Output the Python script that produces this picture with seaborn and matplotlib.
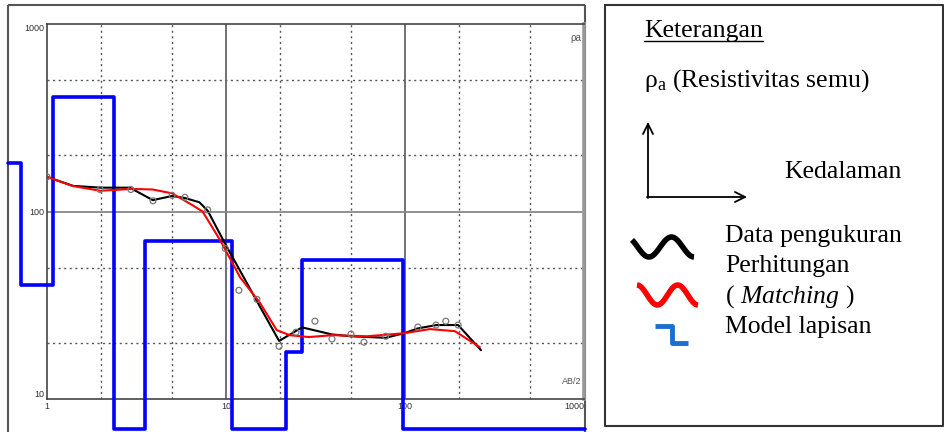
import numpy as np
import matplotlib
matplotlib.use("Agg")
import matplotlib.pyplot as plt
import seaborn as sns
from matplotlib.ticker import LogLocator, NullFormatter, FixedLocator

# Data pengukuran (titik ukur)
ab2_obs = [1.0, 1.98, 2.94, 3.91, 5.0, 5.9, 7.9, 9.9, 11.8, 14.9, 19.8, 24.6,
           31.4, 39.1, 49.9, 59, 78, 118, 149, 169, 198]
rho_obs = [153, 131, 131, 114, 122, 119, 102, 63.6, 38, 34, 19.1, 22.7,
           26, 20.9, 22.2, 20.1, 21.6, 24.2, 24.8, 26, 24.8]

# Kurva data pengukuran (garis hitam)
ab2_line = [1.0, 1.4, 2.0, 2.9, 3.9, 5.0, 5.9, 7.1, 7.9, 10, 15, 19.8, 26.6,
            39, 50, 78, 100, 118, 150, 198, 266]
rho_line = [153, 137, 134, 134, 115, 121, 118, 112, 101, 66, 32.8, 20.4, 24.1,
            22.1, 21.6, 21.2, 22.5, 23.8, 24.8, 24.8, 18.2]

# Kurva perhitungan (matching)
ab2_calc = [1.0, 1.38, 1.98, 3.0, 3.9, 5.0, 6.3, 7.4, 9.3, 12, 15.5, 19.2, 22.7,
            29, 39.6, 61, 98, 138, 190, 262]
rho_calc = [153, 137, 129, 132, 131, 125, 110, 100, 70, 44.5, 32.5, 23.3, 21.9,
            21.4, 21.9, 21.6, 22.4, 23.6, 23.0, 18.9]

# Model lapisan
layer_top = [0.605, 0.716, 1.08, 2.37, 3.53, 10.8, 21.6, 26.6, 97.5]
layer_rho = [182, 40.4, 409, 6.9, 69.2, 6.9, 17.8, 54.9, 6.9]
model_end = 1014

W, H = 945, 432

sns.set_style("white")
plt.rcParams["font.family"] = ["Liberation Sans", "DejaVu Sans"]
plt.rcParams["mathtext.fontset"] = "custom"
plt.rcParams["mathtext.rm"] = "Liberation Serif"
plt.rcParams["mathtext.it"] = "Liberation Serif:italic"

fig = plt.figure(figsize=(W / 100, H / 100), dpi=100)

# kanvas piksel untuk bingkai dan keterangan
cv = fig.add_axes([0, 0, 1, 1])
cv.set_xlim(0, W)
cv.set_ylim(H, 0)
cv.axis("off")

frame = dict(color="#555555", lw=1.5, solid_capstyle="butt")
cv.plot([8, 8], [5, H], **frame)
cv.plot([8, 585], [5, 5], **frame)
cv.plot([585, 585], [5, H], **frame)
cv.plot([605, 943, 943, 605, 605], [5, 5, 426, 426, 5], color="#333333", lw=1.5)

# grafik utama
ax = fig.add_axes([47 / W, 1 - 399 / H, (584 - 47) / W, (399 - 24) / H])
ax.set_xscale("log")
ax.set_yscale("log")
ax.set_xlim(1, 1000)
ax.set_ylim(10, 1000)

for d in [1, 10, 100]:
    for m in [2, 5]:
        ax.axvline(d * m, color="#555555", lw=1, ls=(0, (1.5, 2.5)), zorder=1)
for d in [10, 100]:
    for m in [2, 5]:
        ax.axhline(d * m, color="#555555", lw=1, ls=(0, (1.5, 2.5)), zorder=1)
for v in [10, 100]:
    ax.axvline(v, color="#666666", lw=1.3, zorder=1)
ax.axhline(100, color="#888888", lw=1.3, zorder=1)

xs = layer_top + [model_end]
ys = layer_rho + [layer_rho[-1]]
sns.lineplot(x=xs, y=ys, ax=ax, color="#0000ff", lw=2.6, drawstyle="steps-post",
             estimator=None, sort=False, clip_on=False, zorder=3)
sns.lineplot(x=ab2_line, y=rho_line, ax=ax, color="black", lw=1.5,
             estimator=None, sort=False, zorder=4)
sns.lineplot(x=ab2_calc, y=rho_calc, ax=ax, color="#ff0000", lw=1.5,
             estimator=None, sort=False, zorder=5)
sns.scatterplot(x=ab2_obs, y=rho_obs, ax=ax, marker="o", s=18,
                facecolor="none", edgecolor="#777777", linewidth=0.9, zorder=6)

ax.xaxis.set_major_locator(FixedLocator([1, 10, 100, 1000]))
ax.yaxis.set_major_locator(FixedLocator([10, 100, 1000]))
ax.set_xticklabels(["1", "10", "100", "1000"])
ax.set_yticklabels(["10", "100", "1000"])
ax.xaxis.set_minor_locator(LogLocator(base=10, subs=np.arange(2, 10)))
ax.yaxis.set_minor_locator(LogLocator(base=10, subs=np.arange(2, 10)))
ax.xaxis.set_minor_formatter(NullFormatter())
ax.yaxis.set_minor_formatter(NullFormatter())
ax.tick_params(which="major", length=0, labelsize=6.5, labelcolor="#333333", pad=2)
ax.tick_params(which="minor", direction="in", length=3, width=0.8, color="#555555")
ax.get_yticklabels()[0].set_va("bottom")
ax.get_yticklabels()[-1].set_va("top")
ax.get_xticklabels()[-1].set_ha("right")

for side in ["left", "bottom", "top"]:
    ax.spines[side].set_color("#444444")
    ax.spines[side].set_linewidth(1.2)
ax.spines["right"].set_color("#999999")
ax.spines["right"].set_linewidth(2.6)
ax.set_xlabel("")
ax.set_ylabel("")

ax.text(0.995, 0.975, "ρa", transform=ax.transAxes, ha="right", va="top",
        fontsize=7, color="#555555")
ax.text(0.995, 0.035, "AB/2", transform=ax.transAxes, ha="right", va="bottom",
        fontsize=6.5, color="#555555")

# keterangan
serif = dict(family="Liberation Serif", color="black", va="baseline")
fs = 18.5
t = cv.text(644, 37, "Keterangan", fontsize=fs, **serif)
cv.text(644, 87, r"ρ$_{\mathrm{a}}$ (Resistivitas semu)", fontsize=fs, **serif)
cv.text(784, 178, "Kedalaman", fontsize=fs, **serif)
cv.text(725, 242, "Data pengukuran", fontsize=fs, **serif)
cv.text(725, 272, "Perhitungan", fontsize=fs, **serif)
cv.text(725, 303, r"( $\mathit{Matching}$ )", fontsize=fs, **serif)
cv.text(725, 333, "Model lapisan", fontsize=fs, **serif)

fig.canvas.draw()
bb = t.get_window_extent().transformed(cv.transData.inverted())
cv.plot([bb.x0, bb.x1], [41, 41], color="black", lw=1)

cv.annotate("", xy=(648, 122), xytext=(648, 198),
            arrowprops=dict(arrowstyle="->", lw=1.3, color="black", mutation_scale=18,
                            shrinkA=0, shrinkB=0))
cv.annotate("", xy=(747, 197), xytext=(647, 197),
            arrowprops=dict(arrowstyle="->", lw=1.3, color="black", mutation_scale=18,
                            shrinkA=0, shrinkB=0))

tt = np.linspace(-np.pi / 4, 2.5 * np.pi, 60)
cv.plot(632 + 62 * (tt - tt[0]) / (tt[-1] - tt[0]), 247 + 10 * np.sin(tt),
        color="black", lw=4, solid_capstyle="butt")
tt = np.linspace(-np.pi / 2, 2.5 * np.pi, 60)
cv.plot(637 + 61 * (tt - tt[0]) / (tt[-1] - tt[0]), 295 + 10 * np.sin(tt),
        color="#ff0000", lw=4, solid_capstyle="butt")
cv.plot([655, 672, 672, 688], [326, 326, 343, 343], color="#1a6fd0", lw=3.5,
        solid_capstyle="butt")

fig.savefig("out.png", dpi=100)
